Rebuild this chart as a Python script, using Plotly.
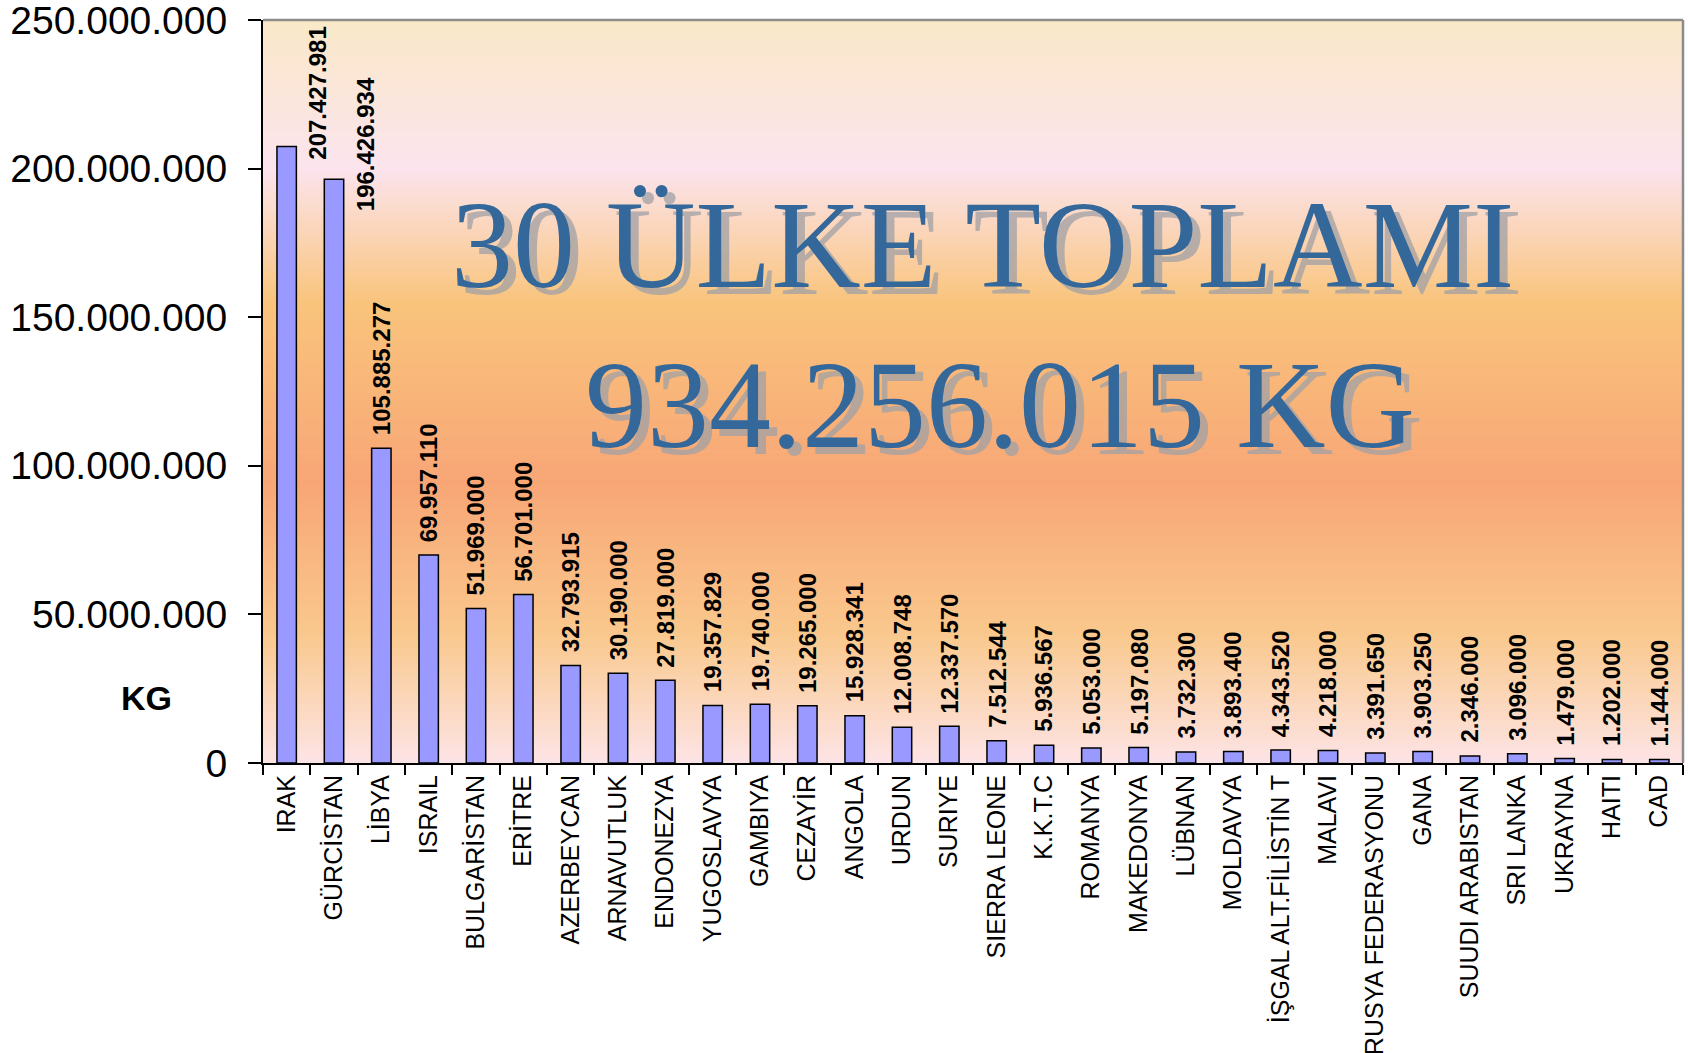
import plotly.graph_objects as go

# ---------------- data ----------------
countries = [
    "IRAK", "GÜRCİSTAN", "LİBYA", "ISRAIL", "BULGARİSTAN", "ERİTRE",
    "AZERBEYCAN", "ARNAVUTLUK", "ENDONEZYA", "YUGOSLAVYA", "GAMBIYA",
    "CEZAYİR", "ANGOLA", "URDUN", "SURIYE", "SIERRA LEONE", "K.K.T.C",
    "ROMANYA", "MAKEDONYA", "LÜBNAN", "MOLDAVYA", "İŞGAL ALT.FİLİSTİN T",
    "MALAVI", "RUSYA FEDERASYONU", "GANA", "SUUDI ARABISTAN", "SRI LANKA",
    "UKRAYNA", "HAITI", "CAD",
]
values_kg = [
    207427981, 196426934, 105885277, 69957110, 51969000, 56701000,
    32793915, 30190000, 27819000, 19357829, 19740000,
    19265000, 15928341, 12008748, 12337570, 7512544, 5936567,
    5053000, 5197080, 3732300, 3893400, 4343520,
    4218000, 3391650, 3903250, 2346000, 3096000,
    1479000, 1202000, 1144000,
]
y_tick_values = [0, 50000000, 100000000, 150000000, 200000000, 250000000]
y_axis_title = "KG"
headline_lines = ["30 ÜLKE TOPLAMI", "934.256.015 KG"]

# label position tweaks (pixels) for the two tallest bars: (xshift, yshift)
label_offsets = {"IRAK": (30, -15), "GÜRCİSTAN": (31, -34)}

# background gradient stops (fraction of plot height from bottom, colour)
gradient_stops = [
    (0.000, (0xFD, 0xE4, 0xE6)),
    (0.175, (0xF9, 0xC8, 0x8C)),
    (0.378, (0xF8, 0xA6, 0x76)),
    (0.620, (0xF9, 0xC4, 0x7C)),
    (0.800, (0xFC, 0xE4, 0xEE)),
    (1.000, (0xFA, 0xE8, 0xC8)),
]


def fmt(v):
    return f"{v:,}".replace(",", ".")


def grad_color(t):
    for (t0, c0), (t1, c1) in zip(gradient_stops[:-1], gradient_stops[1:]):
        if t0 <= t <= t1:
            f = (t - t0) / (t1 - t0)
            return "rgb(%d,%d,%d)" % tuple(round(a + (b - a) * f) for a, b in zip(c0, c1))
    return "rgb(%d,%d,%d)" % gradient_stops[-1][1]


SANS = "Liberation Sans, Arial, sans-serif"
SERIF = "Liberation Serif, Times New Roman, serif"

fig = go.Figure()
fig.add_trace(go.Bar(
    x=countries,
    y=values_kg,
    marker=dict(color="#9999FF", line=dict(color="black", width=1.5)),
    width=0.41,
    hoverinfo="x+y",
))

# gradient background strips
shapes = []
N = 160
for i in range(N):
    y0 = i / N
    y1 = (i + 1) / N
    shapes.append(dict(
        type="rect", xref="paper", yref="paper", x0=0, x1=1, y0=y0, y1=y1 + 0.001,
        fillcolor=grad_color((y0 + y1) / 2), line=dict(width=0), layer="below",
    ))
# gray frame on top and right
shapes.append(dict(type="line", xref="paper", yref="paper", x0=0, x1=1, y0=1, y1=1,
                   line=dict(color="#8C8C8C", width=2.5), layer="above"))
shapes.append(dict(type="line", xref="paper", yref="paper", x0=1, x1=1, y0=0, y1=1,
                   line=dict(color="#8C8C8C", width=2.5), layer="above"))

annotations = []
# value labels
for c, v in zip(countries, values_kg):
    xs, ys = label_offsets.get(c, (0, 11))
    annotations.append(dict(
        x=c, y=v, xref="x", yref="y", text="<b>" + fmt(v) + "</b>",
        textangle=-90, showarrow=False, xanchor="center", yanchor="bottom",
        xshift=xs, yshift=ys,
        font=dict(family=SANS, size=24, color="black"),
    ))

# headline with shadow
head_pos = [(0.507, 0.696, 124), (0.519, 0.481, 124)]
for (hx, hy, hs), txt in zip(head_pos, headline_lines):
    annotations.append(dict(
        x=hx, y=hy, xref="paper", yref="paper", text=txt, showarrow=False,
        xanchor="center", yanchor="middle", xshift=8, yshift=-7,
        font=dict(family=SERIF, size=hs, color="rgba(160,160,165,0.75)"),
    ))
    annotations.append(dict(
        x=hx, y=hy, xref="paper", yref="paper", text=txt, showarrow=False,
        xanchor="center", yanchor="middle",
        font=dict(family=SERIF, size=hs, color="#35689A"),
    ))

# y-axis title
annotations.append(dict(
    x=-0.082, y=0.088, xref="paper", yref="paper", text="<b>" + y_axis_title + "</b>",
    showarrow=False, xanchor="center", yanchor="middle",
    font=dict(family=SANS, size=34, color="black"),
))

fig.update_layout(
    width=1688, height=1053,
    margin=dict(l=263, r=5, t=20, b=290, autoexpand=False),
    paper_bgcolor="white",
    plot_bgcolor="white",
    separators=",.",
    showlegend=False,
    bargap=0.59,
    shapes=shapes,
    annotations=annotations,
    font=dict(family=SANS, color="black"),
)
fig.update_xaxes(
    type="category",
    automargin=False,
    showline=True, linecolor="black", linewidth=2,
    ticks="outside", ticklen=10, tickwidth=2, tickcolor="black",
    tickson="boundaries",
    tickangle=-90,
    tickfont=dict(family=SANS, size=25, color="black"),
    ticklabelstandoff=0,
    ticklabeloverflow="allow",
    showgrid=False,
)
fig.update_yaxes(
    automargin=False,
    range=[0, 250000000],
    tickvals=y_tick_values,
    tickformat=",d",
    showline=True, linecolor="black", linewidth=2,
    ticks="outside", ticklen=13, tickwidth=2, tickcolor="black",
    tickfont=dict(family=SANS, size=39, color="black"),
    ticklabelstandoff=13,
    ticklabeloverflow="allow",
    showgrid=False, zeroline=False,
)

fig.write_html(
    "out.html",
    config={"displayModeBar": False},
    post_script="document.body.style.margin='0px';document.body.style.overflow='hidden';",
)
